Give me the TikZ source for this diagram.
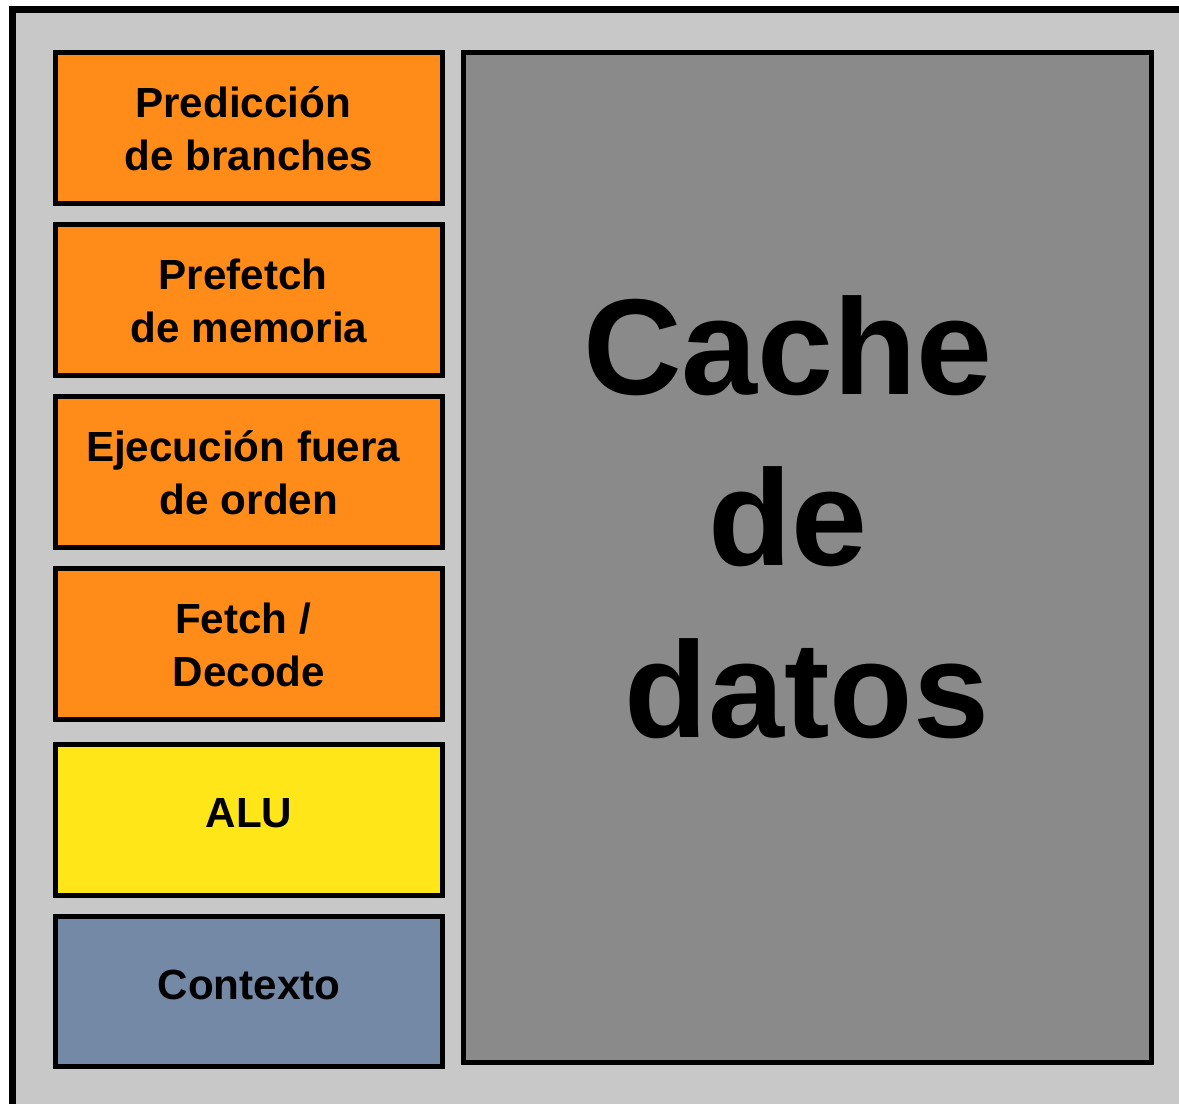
\documentclass[tikz,border=0pt]{standalone}
\usepackage{fontspec}
\setmainfont{Liberation Sans}
\usepackage{tikz}
\definecolor{unitorange}{HTML}{FF8C19}
\definecolor{unityellow}{HTML}{FFE619}
\definecolor{unitslate}{HTML}{7489A5}
\definecolor{cachegray}{HTML}{8A8A8A}
\definecolor{diegray}{HTML}{C8C8C8}
\newcommand{\trail}{\kern.278em}
\tikzset{
  diebg/.style={fill=diegray, draw=black, line width=0.14cm},
  unitbox/.style={draw=black, line width=0.1cm},
  unitlabel/.style={font=\fontsize{24}{30}\selectfont\bfseries, align=center, inner sep=0pt},
  cachelabel/.style={font=\fontsize{77.7}{97.6}\selectfont\bfseries, align=center, inner sep=0pt},
}

\begin{document}
\begin{tikzpicture}[x=0.02cm, y=-0.02cm]
\clip (0,0) rectangle (1179,1103);
\draw[diebg] (12.5,9.5) rectangle (1250,1180);
% columna de unidades
\draw[unitbox, fill=unitorange] (55.5,52.5) rectangle (442.5,203.5);
\draw[unitbox, fill=unitorange] (55.5,224.5) rectangle (442.5,375.5);
\draw[unitbox, fill=unitorange] (55.5,396.5) rectangle (442.5,547.5);
\draw[unitbox, fill=unitorange] (55.5,568.5) rectangle (442.5,719.5);
\draw[unitbox, fill=unityellow] (55.5,744.5) rectangle (442.5,895.5);
\draw[unitbox, fill=unitslate] (55.5,916.5) rectangle (442.5,1066.5);
\node[unitlabel] (pred) at (249,129) {Predicción\trail\\de branches};
\node[unitlabel] (pref) at (249,301) {Prefetch\trail\\de memoria};
\node[unitlabel] (ejec) at (249,473) {Ejecución fuera\trail\\de orden};
\node[unitlabel] (fetch) at (249,645) {Fetch /\trail\\Decode};
\node[unitlabel, anchor=base] (alu) at (249,827) {ALU};
\node[unitlabel, anchor=base] (ctx) at (249,999) {Contexto};
% cache
\draw[unitbox, fill=cachegray] (463.5,52.5) rectangle (1151.5,1062.5);
\node[cachelabel] (cache) at (807,517) {Cache\trail\\de\trail\\datos};
\end{tikzpicture}
\end{document}
